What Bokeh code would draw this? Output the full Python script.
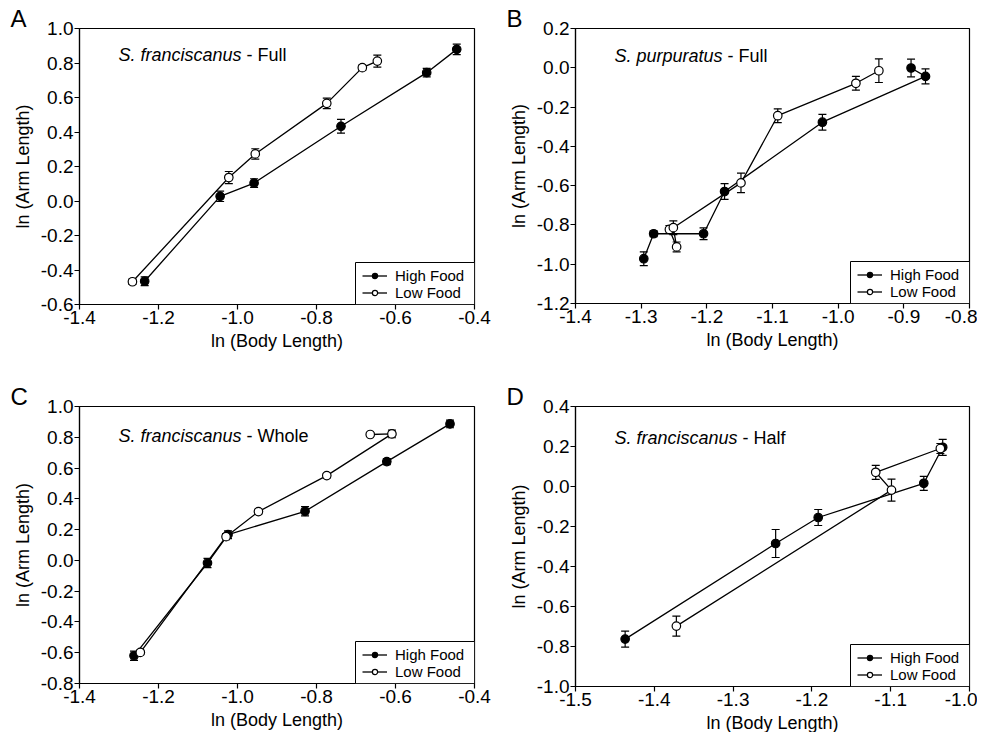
from bokeh.plotting import figure
from bokeh.models import (ColumnDataSource, Whisker, TeeHead, Range1d, FixedTicker,
                          PrintfTickFormatter, Legend, LegendItem, Label, Title,
                          BoxAnnotation)
from bokeh.layouts import column, row
from bokeh.embed import file_html
from bokeh.resources import INLINE

FONT = "Liberation Sans"

# ---------------- Panel A: S. franciscanus - Full ----------------
a_high_x = [-1.235, -1.044, -0.958, -0.738, -0.521, -0.445]
a_high_y = [-0.465, 0.027, 0.104, 0.433, 0.744, 0.879]
a_high_e = [0.025, 0.030, 0.025, 0.040, 0.025, 0.030]
a_low_x = [-1.266, -1.022, -0.955, -0.774, -0.684, -0.646]
a_low_y = [-0.468, 0.136, 0.273, 0.566, 0.773, 0.811]
a_low_e = [0.015, 0.035, 0.030, 0.030, 0.015, 0.035]
a_xticks = [-1.4, -1.2, -1.0, -0.8, -0.6, -0.4]
a_yticks = [-0.6, -0.4, -0.2, 0.0, 0.2, 0.4, 0.6, 0.8, 1.0]

# ---------------- Panel B: S. purpuratus - Full ----------------
b_high_x = [-1.296, -1.281, -1.205, -1.173, -1.024, -0.867, -0.889]
b_high_y = [-0.972, -0.845, -0.845, -0.630, -0.277, -0.044, -0.001]
b_high_e = [0.035, 0.015, 0.030, 0.040, 0.040, 0.038, 0.045]
b_low_x = [-1.257, -1.246, -1.251, -1.148, -1.092, -0.973, -0.938]
b_low_y = [-0.823, -0.912, -0.814, -0.586, -0.244, -0.079, -0.015]
b_low_e = [0.020, 0.025, 0.035, 0.050, 0.035, 0.035, 0.060]
b_xticks = [-1.4, -1.3, -1.2, -1.1, -1.0, -0.9, -0.8]
b_yticks = [-1.2, -1.0, -0.8, -0.6, -0.4, -0.2, 0.0, 0.2]

# ---------------- Panel C: S. franciscanus - Whole ----------------
c_high_x = [-1.262, -1.076, -1.024, -0.829, -0.622, -0.462]
c_high_y = [-0.620, -0.017, 0.167, 0.319, 0.642, 0.887]
c_high_e = [0.030, 0.030, 0.025, 0.030, 0.020, 0.025]
c_low_x = [-1.246, -1.029, -0.947, -0.774, -0.609, -0.664]
c_low_y = [-0.598, 0.154, 0.317, 0.551, 0.822, 0.818]
c_low_e = [0.015, 0.020, 0.015, 0.015, 0.025, 0.010]
c_xticks = [-1.4, -1.2, -1.0, -0.8, -0.6, -0.4]
c_yticks = [-0.8, -0.6, -0.4, -0.2, 0.0, 0.2, 0.4, 0.6, 0.8, 1.0]

# ---------------- Panel D: S. franciscanus - Half ----------------
d_high_x = [-1.437, -1.246, -1.192, -1.058, -1.034]
d_high_y = [-0.763, -0.285, -0.155, 0.016, 0.196]
d_high_e = [0.040, 0.070, 0.040, 0.035, 0.040]
d_low_x = [-1.372, -1.099, -1.119, -1.037]
d_low_y = [-0.698, -0.018, 0.071, 0.190]
d_low_e = [0.050, 0.055, 0.035, 0.025]
d_xticks = [-1.5, -1.4, -1.3, -1.2, -1.1, -1.0]
d_yticks = [-1.0, -0.8, -0.6, -0.4, -0.2, 0.0, 0.2, 0.4]

series_labels = ["High Food", "Low Food"]
x_label = "ln (Body Length)"
y_label = "ln (Arm Length)"

LEG_W = 119
LEG_H = 42


def panel(letter, species, treatment, species_w, xticks, yticks,
          hx, hy, he, lx, ly, le, fw, fh, bl, br, bt, bb, sub_dy):
    p = figure(frame_width=fw, frame_height=fh,
               min_border_left=bl, min_border_right=br,
               min_border_top=bt, min_border_bottom=bb,
               x_range=Range1d(xticks[0], xticks[-1]),
               y_range=Range1d(yticks[0], yticks[-1]),
               output_backend="svg", toolbar_location=None,
               background_fill_color="white", border_fill_color="white")
    p.title = Title(text=letter, align="left", offset=-69, standoff=-7,
                    text_font=FONT, text_font_size="24px",
                    text_font_style="normal", text_color="black")
    p.xgrid.visible = False
    p.ygrid.visible = False
    p.outline_line_color = "black"
    p.outline_line_width = 1.2
    p.outline_line_alpha = 1.0

    p.xaxis.ticker = FixedTicker(ticks=xticks)
    p.yaxis.ticker = FixedTicker(ticks=yticks)
    for ax in (p.xaxis[0], p.yaxis[0]):
        ax.formatter = PrintfTickFormatter(format="%.1f")
        ax.axis_line_color = "black"
        ax.axis_line_width = 1.2
        ax.major_tick_line_color = "black"
        ax.major_tick_line_width = 1.2
        ax.major_tick_out = 5
        ax.major_tick_in = 0
        ax.minor_tick_line_color = None
        ax.major_label_text_font = FONT
        ax.major_label_text_font_size = "19px"
        ax.major_label_text_color = "black"
        ax.major_label_standoff = 1
        ax.axis_label_text_font = FONT
        ax.axis_label_text_font_size = "18px"
        ax.axis_label_text_font_style = "normal"
        ax.axis_label_text_color = "black"
    p.xaxis.axis_label = x_label
    p.yaxis.axis_label = y_label
    p.xaxis.axis_label_standoff = 4
    p.yaxis.axis_label_standoff = 5

    hsrc = ColumnDataSource(dict(x=hx, y=hy,
                                 upper=[a + b for a, b in zip(hy, he)],
                                 lower=[a - b for a, b in zip(hy, he)]))
    lsrc = ColumnDataSource(dict(x=lx, y=ly,
                                 upper=[a + b for a, b in zip(ly, le)],
                                 lower=[a - b for a, b in zip(ly, le)]))

    for src in (hsrc, lsrc):
        w = Whisker(base="x", upper="upper", lower="lower", source=src,
                    dimension="height", line_color="black", line_width=1.2,
                    upper_head=TeeHead(size=8, line_width=1.2, line_color="black"),
                    lower_head=TeeHead(size=8, line_width=1.2, line_color="black"))
        p.add_layout(w)

    hl = p.line("x", "y", source=hsrc, line_color="black", line_width=1.3)
    ll = p.line("x", "y", source=lsrc, line_color="black", line_width=1.3)
    hs = p.scatter("x", "y", source=hsrc, marker="circle", size=8.5,
                   fill_color="black", line_color="black", line_width=1.2)
    ls = p.scatter("x", "y", source=lsrc, marker="circle", size=8.5,
                   fill_color="white", line_color="black", line_width=1.2)

    # legend frame (flush with the plot's bottom-right corner)
    p.add_layout(BoxAnnotation(left=fw - LEG_W, right=fw, bottom=0, top=LEG_H,
                               left_units="screen", right_units="screen",
                               bottom_units="screen", top_units="screen",
                               fill_color="white", fill_alpha=1.0,
                               line_color="black", line_width=1.0, line_alpha=1.0,
                               level="annotation"))
    rows = [(series_labels[0], [hl, hs], 20.5), (series_labels[1], [ll, ls], 3)]
    for lab, rends, yoff in rows:
        lg = Legend(items=[LegendItem(label=lab, renderers=rends)],
                    location=(fw - LEG_W + 7, yoff), margin=0, padding=0,
                    spacing=0, border_line_color=None,
                    background_fill_alpha=0.0,
                    label_text_font=FONT, label_text_font_size="15px",
                    label_text_color="black",
                    glyph_width=25, glyph_height=13, label_height=13,
                    label_standoff=8)
        p.add_layout(lg)

    p.add_layout(Label(x=39, y=fh - sub_dy, x_units="screen", y_units="screen",
                       text=species, text_font=FONT, text_font_size="18px",
                       text_font_style="italic", text_baseline="alphabetic",
                       text_align="left", text_color="black"))
    p.add_layout(Label(x=39 + species_w + 5, y=fh - sub_dy, x_units="screen",
                       y_units="screen", text="- " + treatment, text_font=FONT,
                       text_font_size="18px", text_baseline="alphabetic",
                       text_align="left", text_color="black"))
    return p


pA = panel("A", "S. franciscanus", "Full", 123, a_xticks, a_yticks,
           a_high_x, a_high_y, a_high_e, a_low_x, a_low_y, a_low_e,
           395, 276, 79, 19, 27, 57, 26)
pB = panel("B", "S. purpuratus", "Full", 108, b_xticks, b_yticks,
           b_high_x, b_high_y, b_high_e, b_low_x, b_low_y, b_low_e,
           394, 275, 82, 8, 28, 57, 27)
pC = panel("C", "S. franciscanus", "Whole", 123, c_xticks, c_yticks,
           c_high_x, c_high_y, c_high_e, c_low_x, c_low_y, c_low_e,
           395, 277, 79, 19, 46, 47, 29)
pD = panel("D", "S. franciscanus", "Half", 123, d_xticks, d_yticks,
           d_high_x, d_high_y, d_high_e, d_low_x, d_low_y, d_low_e,
           394, 280, 82, 8, 43, 47, 31)

layout = column(row(pA, pB), row(pC, pD))
open("out.html", "w").write(file_html(layout, INLINE))
